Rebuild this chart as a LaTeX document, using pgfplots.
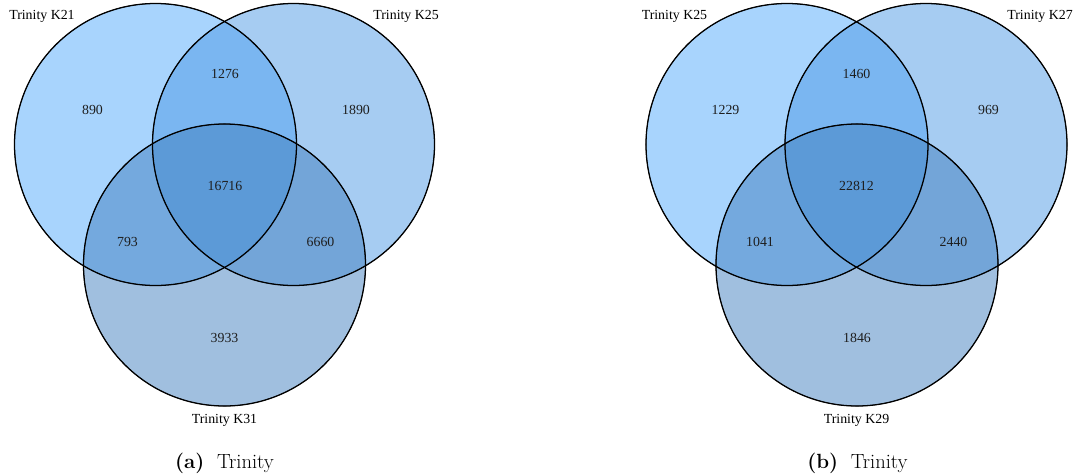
\documentclass[border=0pt]{standalone}
\usepackage{fontspec}
\usepackage{pgfplots}
\usepackage{pgfplotstable}
\pgfplotsset{compat=1.18}
\newfontfamily\lib{Liberation Serif}
\definecolor{cA}{RGB}{81,169,251}
\definecolor{cB}{RGB}{77,153,229}
\definecolor{cC}{RGB}{65,127,191}
\definecolor{numc}{RGB}{30,30,30}

\pgfplotstableread{
x y lab
92.5 110 890
225 73.5 1276
356 110 1890
225 185.5 16716
127.5 242 793
320.5 242 6660
224.5 338 3933
725.5 110 1229
856.5 73.5 1460
988.5 110 969
856.5 185.5 22812
760 242 1041
953.5 242 2440
857 338 1846
}\counts

\begin{document}
\begin{tikzpicture}
\begin{axis}[
  width=806.25pt, height=356.25pt, scale only axis,
  xmin=0, xmax=1075, ymin=0, ymax=475, y dir=reverse,
  hide axis, clip=false,
]
% keep the full frame in the bounding box
\path (rel axis cs:0,0) -- (rel axis cs:1,1);
% set A
\addplot[only marks, mark=*, mark size=105.75pt,
  mark options={draw=none, fill=cA, fill opacity=0.5}]
  coordinates {(155.5,144.5) (787,144.5)};
% set B
\addplot[only marks, mark=*, mark size=105.75pt,
  mark options={draw=none, fill=cB, fill opacity=0.5}]
  coordinates {(293.5,144.5) (926,144.5)};
% set C
\addplot[only marks, mark=*, mark size=105.75pt,
  mark options={draw=none, fill=cC, fill opacity=0.5}]
  coordinates {(224.5,265) (857,265)};
% outlines
\addplot[only marks, mark=o, mark size=105.75pt,
  mark options={draw=black, line width=0.95pt}]
  coordinates {(155.5,144.5) (293.5,144.5) (224.5,265) (787,144.5) (926,144.5) (857,265)};
% region counts
\addplot[draw=none, mark=none, nodes near coords, point meta=explicit symbolic,
  every node near coord/.style={anchor=center, inner sep=0pt, text=numc,
    font=\lib\fontsize{10.4}{12}\selectfont}]
  table[x=x, y=y, meta=lab]{\counts};
% set labels
\begin{scope}[every node/.style={inner sep=0pt, font=\lib\fontsize{10.4}{12}\selectfont}]
\node[anchor=base west] at (axis cs:9,19) {Trinity K21};
\node[anchor=base east] at (axis cs:439,19) {Trinity K25};
\node[anchor=base] at (axis cs:224.5,423) {Trinity K31};
\node[anchor=base west] at (axis cs:641.5,19) {Trinity K25};
\node[anchor=base east] at (axis cs:1073,19) {Trinity K27};
\node[anchor=base] at (axis cs:856.5,423) {Trinity K29};
\end{scope}
% captions
\begin{scope}[every node/.style={inner sep=0pt, font=\fontsize{15.4}{18}\selectfont}]
\node[anchor=base] at (axis cs:224.5,468) {\textbf{(a)}\hspace{9.5pt}Trinity};
\node[anchor=base] at (axis cs:857.5,468) {\textbf{(b)}\hspace{9.5pt}Trinity};
\end{scope}
\end{axis}
\end{tikzpicture}
\end{document}
